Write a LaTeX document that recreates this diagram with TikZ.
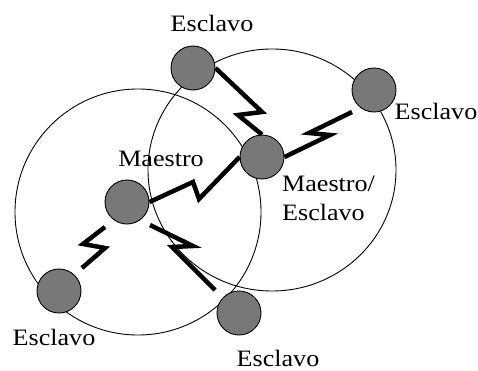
\documentclass[tikz,border=0pt]{standalone}
\usepackage{fontspec}
\setmainfont{Liberation Serif}[FakeStretch=1.11]

\begin{document}
\begin{tikzpicture}[x=1pt, y=-1pt,
    cover/.style={draw=black, line width=0.9pt},
    device/.style={circle, draw=black, fill=black!53, line width=0.9pt, minimum size=44pt, inner sep=0pt},
    link/.style={black, line width=4.5pt},
    tag/.style={font=\fontsize{23.5}{29}\selectfont, inner sep=0pt, anchor=base}
]
\useasboundingbox (0,0) rectangle (478,370);

% Coverage areas of the two piconets
\draw[cover] (138,212) circle (123);
\draw[cover] (272,170) ellipse (124 and 121);

% Devices
\node[device] (ma)  at (127,202) {};
\node[device] (me)  at (262,157) {};
\node[device] (top) at (193,68)  {};
\node[device] (rt)  at (374,90)  {};
\node[device] (bl)  at (59,291)  {};
\node[device] (br)  at (239,313) {};

% Free ends of the short links
\coordinate (rtend) at (352,112);
\coordinate (maa) at (105,227);
\coordinate (blend) at (82,268);
\coordinate (mab) at (150,225);
\coordinate (brend) at (215,290);

% Radio links
\draw[link] (top.east) -- (262,112) -- (238,115) -- (me.north);
\draw[link] (ma.east) -- (193,182) -- (199,199) -- (me.west);
\draw[link] (me.east) -- (330,135) -- (309,133) -- (rtend);
\draw[link] (maa) -- (83,244) -- (105,248) -- (blend);
\draw[link] (mab) -- (193,246) -- (172,247) -- (brend);

% Labels
\node[tag] (ltop) at (212,31)  {Esclavo};
\node[tag] (lrt)  at (436,119) {Esclavo};
\node[tag] (lma)  at (161,166) {Maestro};
\node[tag, anchor=north west, align=left] (lme) at (282,176) {Maestro/\\Esclavo};
\node[tag] (lbl)  at (54,345)  {Esclavo};
\node[tag] (lbr)  at (278,366) {Esclavo};

\end{tikzpicture}
\end{document}
